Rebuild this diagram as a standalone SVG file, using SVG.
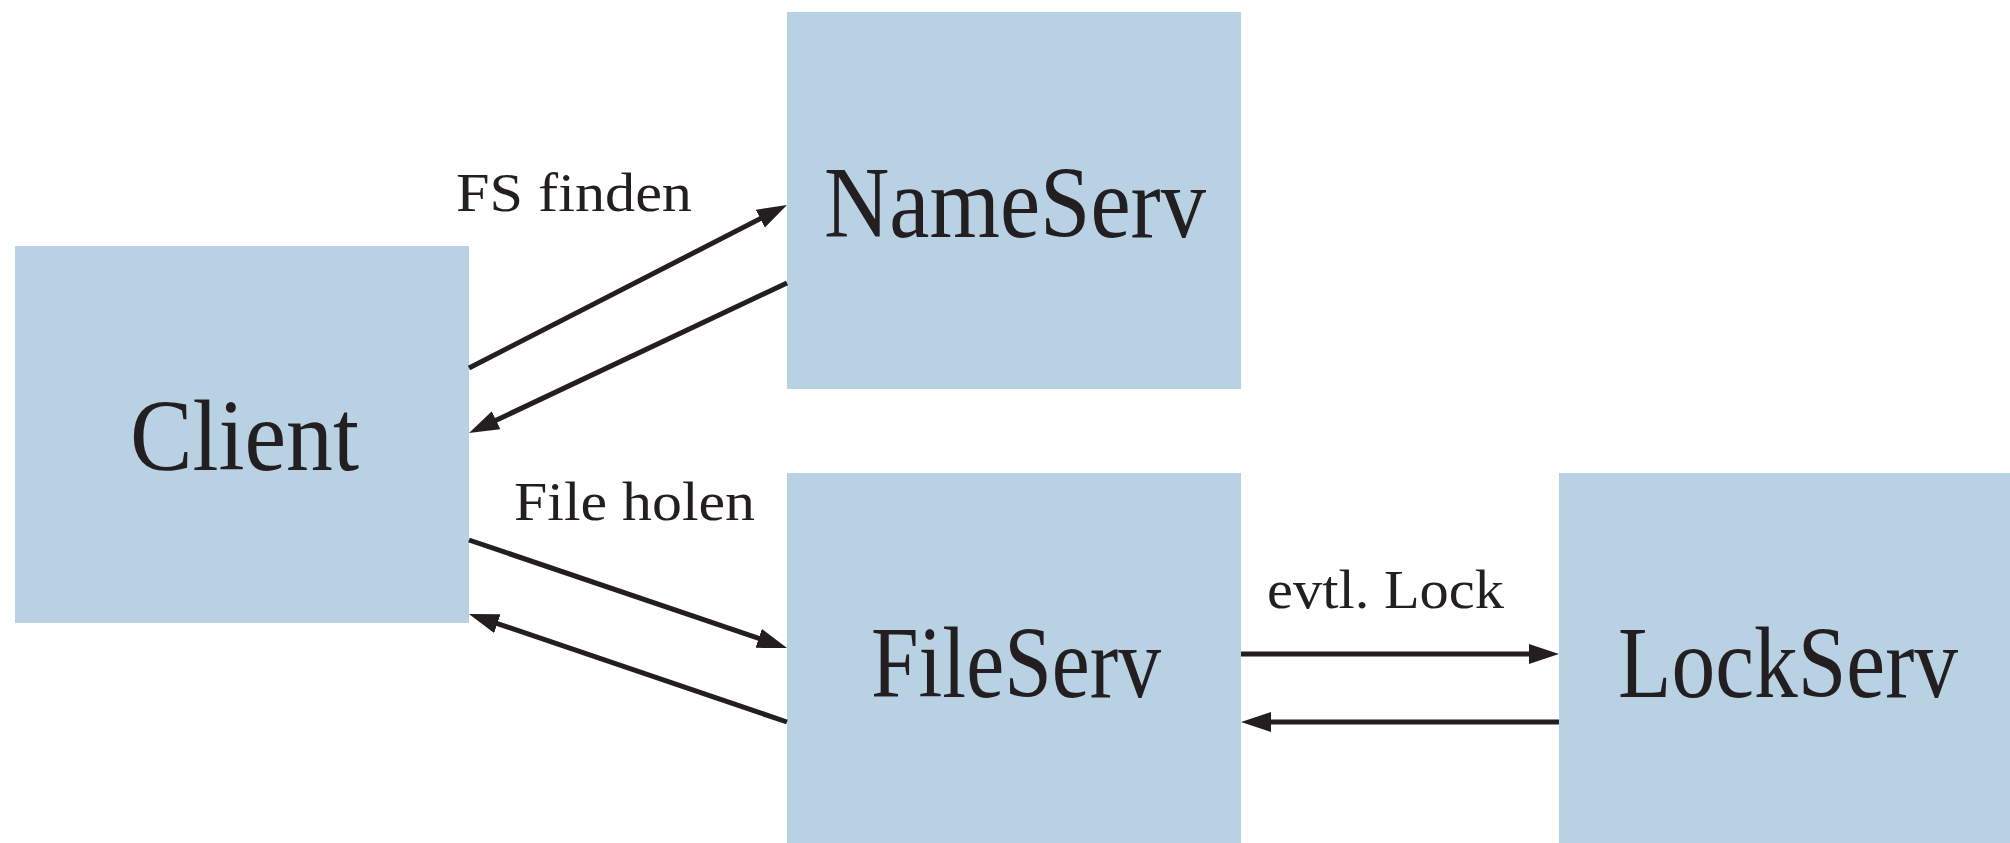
<svg xmlns="http://www.w3.org/2000/svg" width="2010" height="843" viewBox="0 0 2010 843">
<style>
.box{fill:#b8d2e4}
.big{font-family:"Liberation Serif",serif;font-size:102px;fill:#231f20}
.lbl{font-family:"Liberation Serif",serif;font-size:55px;fill:#231f20}
.con{stroke:#231f20;stroke-width:5;fill:none}
</style>
<defs>
<marker id="ah" markerUnits="userSpaceOnUse" markerWidth="30" markerHeight="20" refX="10" refY="10" orient="auto" viewBox="0 0 30 20">
<path d="M0,0 L30,10 L0,20 z" fill="#231f20"/>
</marker>
</defs>
<rect width="2010" height="843" fill="#ffffff"/>
<g id="client"><rect class="box" x="15" y="246" width="454" height="377"/><text class="big" x="130" y="470" textLength="229" lengthAdjust="spacingAndGlyphs">Client</text></g>
<g id="nameserv"><rect class="box" x="787" y="12" width="454" height="377"/><text class="big" x="824" y="237" textLength="382" lengthAdjust="spacingAndGlyphs">NameServ</text></g>
<g id="fileserv"><rect class="box" x="787" y="473" width="454" height="370"/><text class="big" x="871" y="697" textLength="290" lengthAdjust="spacingAndGlyphs">FileServ</text></g>
<g id="lockserv"><rect class="box" x="1559" y="473" width="451" height="370"/><text class="big" x="1618" y="697" textLength="340" lengthAdjust="spacingAndGlyphs">LockServ</text></g>
<g id="connectors">
<line class="con" x1="469" y1="368" x2="769.2" y2="214.1" marker-end="url(#ah)"/>
<line class="con" x1="787" y1="283" x2="487.1" y2="424.5" marker-end="url(#ah)"/>
<line class="con" x1="469" y1="540" x2="768.1" y2="641.6" marker-end="url(#ah)"/>
<line class="con" x1="787" y1="722" x2="487.9" y2="620.4" marker-end="url(#ah)"/>
<line class="con" x1="1241" y1="654" x2="1539" y2="654" marker-end="url(#ah)"/>
<line class="con" x1="1559" y1="722" x2="1261" y2="722" marker-end="url(#ah)"/>
<text class="lbl" x="456" y="211" textLength="236" lengthAdjust="spacingAndGlyphs">FS finden</text>
<text class="lbl" x="514" y="520" textLength="241" lengthAdjust="spacingAndGlyphs">File holen</text>
<text class="lbl" x="1267" y="608" textLength="237" lengthAdjust="spacingAndGlyphs">evtl. Lock</text>
</g>
</svg>
